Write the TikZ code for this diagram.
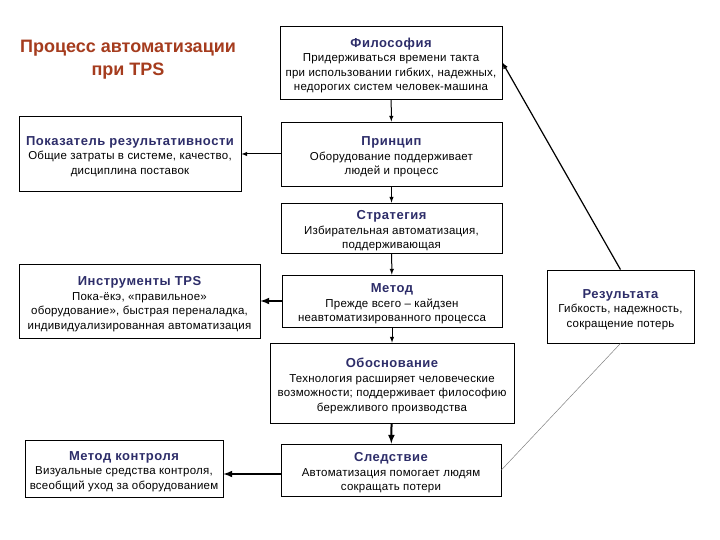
\documentclass[tikz,border=0pt]{standalone}
\usepackage{fontspec}
\setmainfont{Liberation Sans}
\newfontfamily\bodyfont[LetterSpace=2]{Liberation Sans}
\newfontfamily\headfont[LetterSpace=4]{Liberation Sans}
\usepackage{xcolor}
\usetikzlibrary{arrows,calc,positioning}
\definecolor{headblue}{RGB}{45,45,105}
\definecolor{titlered}{RGB}{165,60,30}
\tikzset{%
	block/.style   = {draw, rectangle, line width=0.8pt, align=center, inner sep=0pt, text centered, font=\bodyfont\fontsize{11.5}{14.5}\selectfont},
	arrow/.style   = {line width=1pt,-latex,>=stealth},
	bigarrow/.style= {line width=2pt,-latex,>=stealth},
}
\newcommand{\hd}[1]{{\rule{0pt}{15pt}\headfont\fontsize{13}{15}\selectfont\bfseries\color{headblue}#1}}

\begin{document}
\begin{tikzpicture}[x=1pt,y=-1pt]
	\useasboundingbox (0,0) rectangle (720,540);
	\node[align=center,text=titlered,font=\fontsize{18}{23}\selectfont\bfseries] (title) at (128,60) {Процесс автоматизации\\при TPS};
	\node[block,minimum width=222pt,minimum height=73pt] (phil) at (391,62.5) {\hd{Философия}\\Придерживаться времени такта\\при использовании гибких, надежных,\\недорогих систем человек-машина};
	\node[block,minimum width=221pt,minimum height=64pt] (princ) at (391.5,154) {\hd{Принцип}\\Оборудование поддерживает\\людей и процесс};
	\node[block,minimum width=221pt,minimum height=50pt] (strat) at (391.5,228) {\hd{Стратегия}\\Избирательная автоматизация,\\поддерживающая};
	\node[block,minimum width=220pt,minimum height=52pt] (metod) at (392,301) {\hd{Метод}\\Прежде всего – кайдзен\\неавтоматизированного процесса};
	\node[block,minimum width=244pt,minimum height=80pt] (obosn) at (392,383) {\hd{Обоснование}\\Технология расширяет человеческие\\возможности; поддерживает философию\\бережливого производства};
	\node[block,minimum width=220pt,minimum height=52pt] (sled) at (391,470) {\hd{Следствие}\\Автоматизация помогает людям\\сокращать потери};
	\node[block,minimum width=222pt,minimum height=75pt] (pokaz) at (130,153.5) {\hd{Показатель результативности}\\Общие затраты в системе, качество,\\дисциплина поставок};
	\node[block,minimum width=241pt,minimum height=74pt] (instr) at (139.5,301) {\hd{Инструменты TPS}\\Пока-ёкэ, «правильное»\\оборудование», быстрая переналадка,\\индивидуализированная автоматизация};
	\node[block,minimum width=198pt,minimum height=57pt] (kontr) at (124,468.5) {\hd{Метод контроля}\\Визуальные средства контроля,\\всеобщий уход за оборудованием};
	\node[block,minimum width=147pt,minimum height=73pt] (rez) at (620.5,306.5) {\hd{Результата}\\Гибкость, надежность,\\сокращение потерь};
	% chain down the middle
	\draw[arrow] (phil) -- (princ);
	\draw[arrow] (princ) -- (strat);
	\draw[arrow] (strat) -- (metod);
	\draw[arrow] (metod) -- (obosn);
	\draw[bigarrow] (obosn) -- (sled);
	\draw[arrow] (princ.west) -- (princ.west -| pokaz.east);
	\draw[bigarrow] (metod.west) -- (metod.west -| instr.east);
	\draw[bigarrow] ([yshift=-4pt]sled.west) -- ([yshift=-4pt]sled.west -| kontr.east);
	\draw[arrow,line width=1.2pt] (rez.north) -- (phil.east);
	\draw[gray,line width=0.5pt] (sled.east) -- (rez.south);
\end{tikzpicture}
\end{document}
